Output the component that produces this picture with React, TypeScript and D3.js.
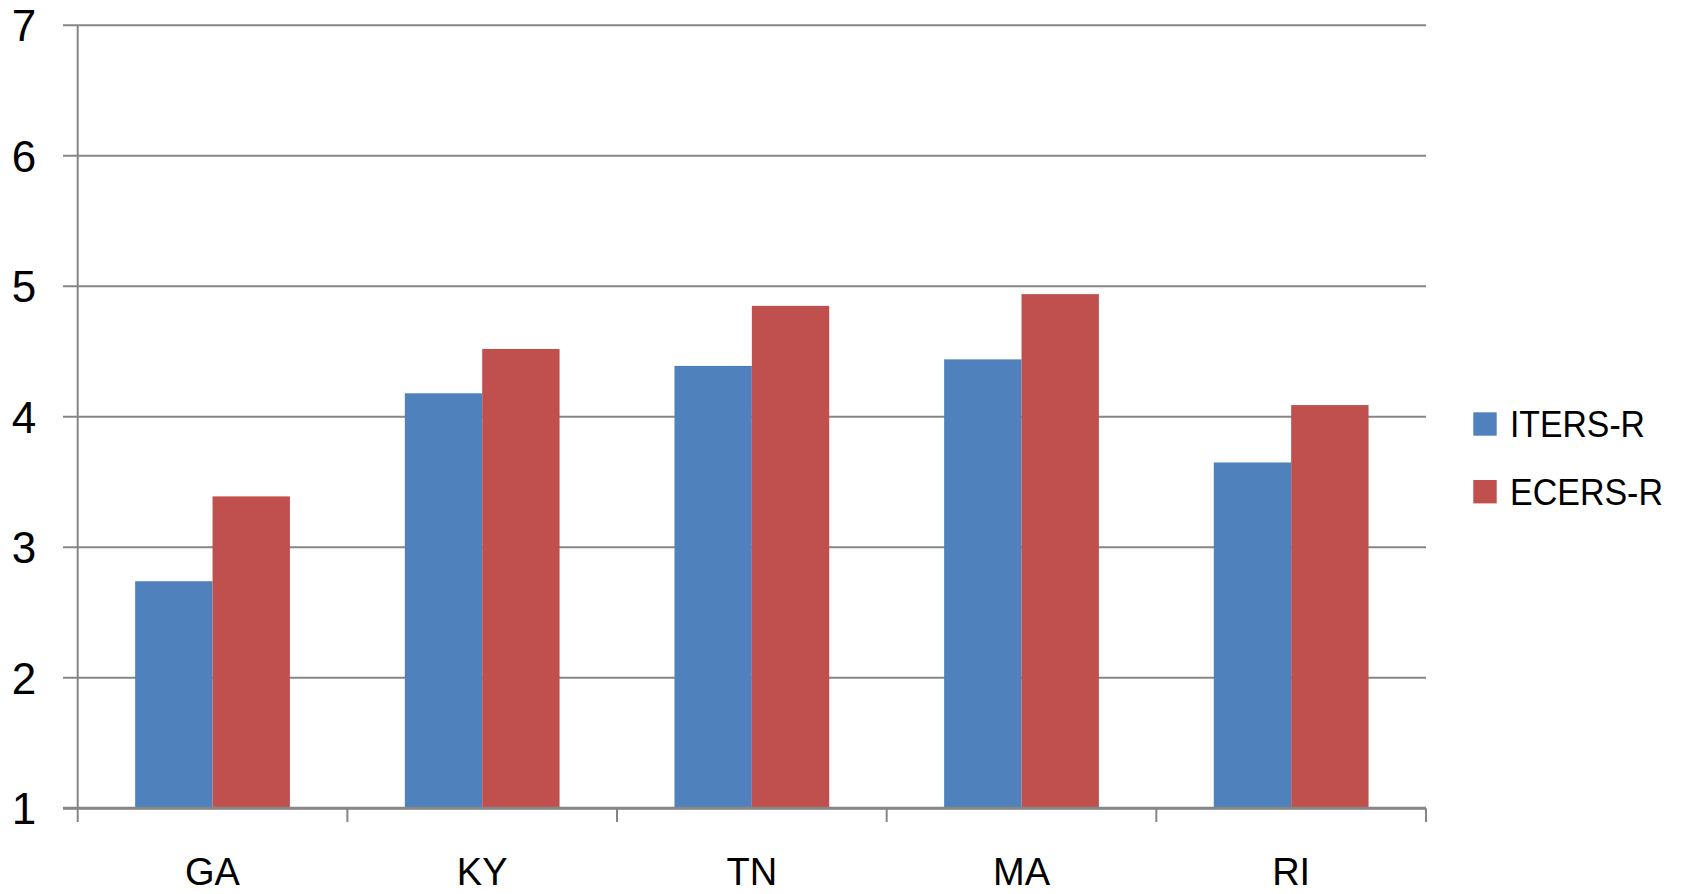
import React from "react";
import * as d3 from "d3";

const categories = ["GA", "KY", "TN", "MA", "RI"];
const seriesNames = ["ITERS-R", "ECERS-R"];
const itersValues = [2.74, 4.18, 4.39, 4.44, 3.65];
const ecersValues = [3.39, 4.52, 4.85, 4.94, 4.09];
const yTicks = [1, 2, 3, 4, 5, 6, 7];
const colors = ["#4F81BD", "#C0504D"];
const legendTextWidths = [135, 153];

const W = 1683;
const H = 894;
const left = 77.7;
const right = 1426;
const top = 25.3;
const bottom = 808.3;
const FONT = "'Liberation Sans', Arial, sans-serif";

export default function App() {
  const x = d3.scaleBand<string>().domain(categories).range([left, right]).paddingInner(0).paddingOuter(0);
  const y = d3.scaleLinear().domain([1, 7]).range([bottom, top]);
  const inner = d3
    .scaleBand<string>()
    .domain(seriesNames)
    .range([0, x.bandwidth()])
    .paddingInner(0)
    .paddingOuter(0.7425);
  const series = [itersValues, ecersValues];
  const grid = "#868686";
  const boundaries = d3.range(categories.length + 1).map((i) => left + i * x.step());

  return (
    <svg width={W} height={H} style={{ position: "absolute", left: 0, top: 0, background: "#fff" }} fontFamily={FONT}>
      <rect x={0} y={0} width={W} height={H} fill="#fff" />
      {yTicks.map((t) => (
        <line key={"g" + t} x1={63} x2={right} y1={y(t)} y2={y(t)} stroke={grid} strokeWidth={2} />
      ))}
      {series.map((vals, si) =>
        categories.map((c, ci) => (
          <rect
            key={si + "-" + c}
            x={(x(c) as number) + (inner(seriesNames[si]) as number)}
            y={y(vals[ci])}
            width={inner.bandwidth()}
            height={bottom - y(vals[ci])}
            fill={colors[si]}
          />
        ))
      )}
      <line x1={left} x2={left} y1={top} y2={bottom} stroke={grid} strokeWidth={2} />
      <line x1={63} x2={right} y1={bottom} y2={bottom} stroke={grid} strokeWidth={3} />
      {boundaries.map((bx, i) => (
        <line key={"t" + i} x1={bx} x2={bx} y1={bottom} y2={822} stroke={grid} strokeWidth={2} />
      ))}
      {yTicks.map((t) => (
        <text key={"yl" + t} x={24} y={y(t)} dy="0.36em" textAnchor="middle" fontSize={44} fill="#000">
          {t}
        </text>
      ))}
      {categories.map((c) => (
        <text
          key={"xl" + c}
          x={(x(c) as number) + x.bandwidth() / 2}
          y={885}
          textAnchor="middle"
          fontSize={38}
          fill="#000"
        >
          {c}
        </text>
      ))}
      {seriesNames.map((s, i) => (
        <g key={"lg" + s} transform={`translate(1473.3, ${412.3 + i * 67.7})`}>
          <rect x={0} y={0} width={23.4} height={23.4} fill={colors[i]} />
          <text
            x={36.7}
            y={11.7}
            dy="0.36em"
            fontSize={37}
            fill="#000"
            textLength={legendTextWidths[i]}
            lengthAdjust="spacingAndGlyphs"
          >
            {s}
          </text>
        </g>
      ))}
    </svg>
  );
}
